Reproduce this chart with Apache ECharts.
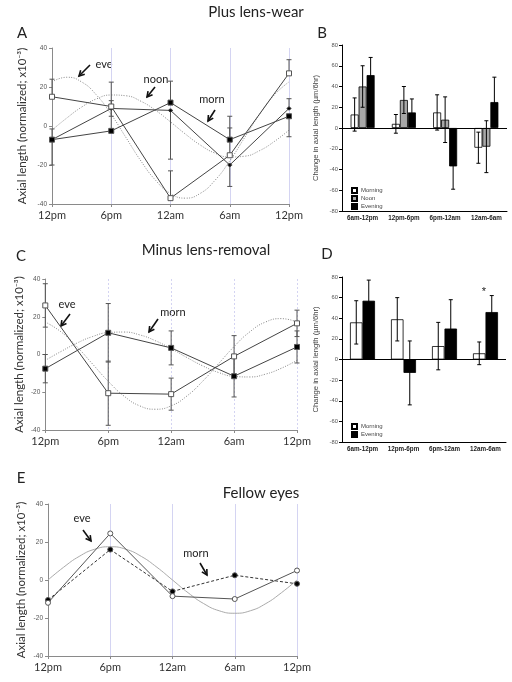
<!DOCTYPE html>
<html>
<head>
<meta charset="utf-8">
<script src="https://cdn.jsdelivr.net/npm/echarts@6/dist/echarts.min.js"></script>
<style>html,body{margin:0;padding:0;background:#fff}#c{width:512px;height:682px}</style>
</head>
<body>
<div id="c"></div>
<script>
// ---------- shared ----------
const hours = [0, 6, 12, 18, 24];
const timeLabels = ['12pm', '6pm', '12am', '6am', '12pm'];
const curveHours = [0, 1.5, 3, 4.5, 6, 7.5, 9, 10.5, 12, 13.5, 15, 16.5, 18, 19.5, 21, 22.5, 24];

// ---------- Panel A: Plus lens-wear ----------
const aOpen = [15, 10, -37, -15, 27];
const aFilled = [-7, -2.5, 12, -7, 5];
const aDot = [-7, 9, 8, -20, 9];
const aOpenErr = [[15, 24], [-2.5, 22.5], [-37, -23], [-15, -1], [27, 34]];
const aFilledErr = [[-20, -7], null, [12, 23], [-7, 5], [-5.5, 5]];
const aDotErr = [[-7, -1.5], [5, 13], [-17, 8], [-31, -20], [9, 14]];
const aEveCurve = [22.6, 25, 22.6, 15.9, 5.9, -6, -17.9, -27.9, -34.6, -37, -34.6, -27.9, -17.9, -6, 5.9, 15.9, 22.6];
const aNoonCurve = [-2.1, 4.1, 9.7, 13.9, 15.9, 15.5, 12.7, 8, 2.1, -4.1, -9.7, -13.9, -15.9, -15.5, -12.7, -8, -2.1];

// ---------- Panel B ----------
const barCats = ['6am-12pm', '12pm-6pm', '6pm-12am', '12am-6am'];
const bMorning = [13, 4, 15, -19];
const bMorningErr = [16, 9, 17, 15];
const bNoon = [40, 27, 8, -18];
const bNoonErr = [20, 13, 22, 25];
const bEvening = [51, 15, -37, 25];
const bEveningErr = [17, 13, 22, 24];

// ---------- Panel C: Minus lens-removal ----------
const cOpen = [26, -20.5, -21, -1, 16.5];
const cFilled = [-7.5, 11.5, 3.5, -11.5, 4];
const cOpenErr = [[14.5, 37.5], [-37.5, -3.5], [-29.5, -12.5], [-12, 10], [9.5, 23.5]];
const cFilledErr = [[-15, 0], [-4, 27], [-5.5, 12.5], [-22.5, -0.5], [-4.5, 12.5]];
const cEveCurve = [17.2, 12, 4.2, -5, -14.2, -22, -27.2, -29, -27.2, -22, -14.2, -5, 4.2, 12, 17.2, 19, 17.2];
const cMornCurve = [-3.1, 1.6, 6, 9.5, 11.6, 11.9, 10.4, 7.3, 3.1, -1.6, -6, -9.5, -11.6, -11.9, -10.4, -7.3, -3.1];

// ---------- Panel D ----------
const dMorning = [36, 39, 13, 6];
const dMorningErr = [21, 21, 23, 11];
const dEvening = [57, -13, 30, 46];
const dEveningErr = [20, 31, 28, 16];

// ---------- Panel E: Fellow eyes ----------
const eOpen = [-12, 24.5, -8.5, -10, 5];
const eFilled = [-10.5, 16, -6, 2.5, -2];
const eCurve = [0, 6.7, 12.4, 16.2, 17.5, 16.2, 12.4, 6.7, 0, -6.7, -12.4, -16.2, -17.5, -16.2, -12.4, -6.7, 0];

const yName = 'Axial length (normalized; x10\u207B\u00B3)';
const barYName = 'Change in axial length (\u00B5m/6hr)';
const LATO = 'Lato';
const ARIAL = 'Liberation Sans';

const pts = (xs, ys) => xs.map((x, i) => [x, ys[i]]);

function timeX(gi, dashed) {
  return {
    gridIndex: gi, type: 'value', min: 0, max: 24, interval: 6,
    axisLine: { onZero: false, lineStyle: { color: '#8a8a8a', width: 1 } },
    axisTick: { length: 3, lineStyle: { color: '#8a8a8a' } },
    axisLabel: { fontFamily: LATO, fontSize: 11, color: '#333', margin: 6,
      formatter: v => timeLabels[hours.indexOf(v)] },
    splitLine: { show: true, lineStyle: { color: '#d4d4f2', width: 1, type: dashed ? [2, 2] : 'solid' } }
  };
}
function axialY(gi, gap) {
  return {
    gridIndex: gi, type: 'value', min: -40, max: 40, interval: 20,
    name: yName, nameLocation: 'middle', nameGap: gap,
    nameTextStyle: { fontFamily: LATO, fontSize: 11.5, color: '#333' },
    axisLine: { show: true, onZero: false, lineStyle: { color: '#8a8a8a' } },
    axisTick: { show: true, length: 3, lineStyle: { color: '#8a8a8a' } },
    axisLabel: { fontFamily: ARIAL, fontSize: 6.5, color: '#555', margin: 5 },
    splitLine: { show: false }
  };
}
function catX(gi) {
  return {
    gridIndex: gi, type: 'category', data: barCats,
    axisLine: { onZero: false, lineStyle: { color: '#000', width: 1 } },
    axisTick: { length: 3, lineStyle: { color: '#000' } },
    axisLabel: { fontFamily: ARIAL, fontSize: 6.3, fontWeight: 'bold', color: '#222', margin: 4 }
  };
}
function barY(gi) {
  return {
    gridIndex: gi, type: 'value', min: -80, max: 80, interval: 20,
    name: barYName, nameLocation: 'middle', nameGap: 22,
    nameTextStyle: { fontFamily: ARIAL, fontSize: 7.6, color: '#444' },
    axisLine: { show: true, onZero: false, lineStyle: { color: '#000' } },
    axisTick: { show: true, length: 3, lineStyle: { color: '#000' } },
    axisLabel: { fontFamily: ARIAL, fontSize: 5.8, color: '#555', margin: 4 },
    splitLine: { show: false }
  };
}

function lineSeries(gi, ys, kind, dashed, color) {
  const sym = (kind === 'open' || kind === 'filled') ? 'rect' : 'circle';
  const size = kind === 'dot' ? 3 : 5;
  const fill = (kind === 'open' || kind === 'ocircle') ? '#fff' : '#000';
  return {
    type: 'line', xAxisIndex: gi, yAxisIndex: gi, data: pts(hours, ys),
    symbol: sym, symbolSize: size, showAllSymbol: true,
    itemStyle: { color: fill, borderColor: kind === 'dot' ? '#333' : '#555', borderWidth: 1 },
    lineStyle: { color: color || '#444', width: 1, type: dashed ? [3, 2] : 'solid' },
    z: 4, silent: true
  };
}
function curveSeries(gi, ys, solid) {
  return {
    type: 'line', xAxisIndex: gi, yAxisIndex: gi, data: pts(curveHours, ys),
    smooth: 0.5, showSymbol: false, silent: true,
    lineStyle: { color: solid ? '#aaa' : '#8a8a8a', width: 1, type: solid ? 'solid' : [1, 1.5] },
    z: 2
  };
}
function errLineSeries(gi, errs, color) {
  const data = [];
  errs.forEach((e, i) => { if (e) data.push([hours[i], e[0], e[1]]); });
  return {
    type: 'custom', xAxisIndex: gi, yAxisIndex: gi, data, silent: true, z: 3,
    encode: { x: 0, y: [1, 2] },
    renderItem(params, api) {
      const lo = api.coord([api.value(0), api.value(1)]);
      const hi = api.coord([api.value(0), api.value(2)]);
      const w = 2.5;
      const st = { stroke: color || '#555', lineWidth: 1 };
      return { type: 'group', children: [
        { type: 'line', shape: { x1: lo[0], y1: lo[1], x2: hi[0], y2: hi[1] }, style: st },
        { type: 'line', shape: { x1: lo[0] - w, y1: lo[1], x2: lo[0] + w, y2: lo[1] }, style: st },
        { type: 'line', shape: { x1: hi[0] - w, y1: hi[1], x2: hi[0] + w, y2: hi[1] }, style: st }
      ] };
    }
  };
}
function barSeries(gi, name, vals, fill, bw, withZero) {
  const s = {
    type: 'bar', name, xAxisIndex: gi, yAxisIndex: gi, data: vals, barWidth: bw, barGap: '0%',
    itemStyle: { color: fill, borderColor: '#000', borderWidth: 0.8 }, silent: true, z: 2
  };
  if (withZero) s.markLine = { silent: true, symbol: 'none', label: { show: false },
    lineStyle: { color: '#000', type: 'solid', width: 1.2 }, data: [{ yAxis: 0 }], animation: false };
  return s;
}
function errBarSeries(gi, vals, errs, offset) {
  return {
    type: 'custom', xAxisIndex: gi, yAxisIndex: gi, silent: true, z: 5,
    data: vals.map((v, i) => [i, v - errs[i], v + errs[i]]),
    encode: { x: 0, y: [1, 2] },
    renderItem(params, api) {
      const lo = api.coord([api.value(0), api.value(1)]);
      const hi = api.coord([api.value(0), api.value(2)]);
      const x = lo[0] + offset, w = 2;
      const st = { stroke: '#000', lineWidth: 1 };
      return { type: 'group', children: [
        { type: 'line', shape: { x1: x, y1: lo[1], x2: x, y2: hi[1] }, style: st },
        { type: 'line', shape: { x1: x - w, y1: lo[1], x2: x + w, y2: lo[1] }, style: st },
        { type: 'line', shape: { x1: x - w, y1: hi[1], x2: x + w, y2: hi[1] }, style: st }
      ] };
    }
  };
}

function arrow(x1, y1, x2, y2) {
  const ang = Math.atan2(y2 - y1, x2 - x1), L = 6, sp = 0.5;
  const p1 = [x2 - L * Math.cos(ang - sp), y2 - L * Math.sin(ang - sp)];
  const p2 = [x2 - L * Math.cos(ang + sp), y2 - L * Math.sin(ang + sp)];
  return { type: 'group', silent: true, children: [
    { type: 'line', shape: { x1, y1, x2, y2 }, style: { stroke: '#111', lineWidth: 1.6 } },
    { type: 'polyline', shape: { points: [p1, [x2, y2], p2] }, style: { stroke: '#111', lineWidth: 1.6, fill: null } }
  ] };
}
function txt(str, x, y, size, family, extra) {
  return { type: 'text', silent: true, x, y, style: Object.assign({ text: str, fontFamily: family || LATO,
    fontSize: size, fill: '#222', align: 'center', verticalAlign: 'middle' }, extra || {}) };
}

const option = {
  animation: false,
  backgroundColor: '#fff',
  grid: [
    { left: 52, top: 48, width: 237, height: 156 },
    { left: 342, top: 45, width: 165, height: 166 },
    { left: 37, top: 279, width: 260, height: 151 },
    { left: 342, top: 277, width: 164, height: 165 },
    { left: 48, top: 504, width: 249, height: 152 }
  ],
  xAxis: [ timeX(0, false), catX(1), timeX(2, true), catX(3), timeX(4, false) ],
  yAxis: [ axialY(0, 24), barY(1), axialY(2, 20), barY(3), axialY(4, 21) ],
  legend: [
    { data: ['Morning', 'Noon', 'Evening'], orient: 'vertical', left: 351, top: 187, padding: 0,
      itemWidth: 5, itemHeight: 5, itemGap: 1, icon: 'rect', selectedMode: false,
      textStyle: { fontFamily: ARIAL, fontSize: 6, color: '#444', padding: [0, 0, 0, -1] } },
    { data: ['Morning', 'Evening'], orient: 'vertical', left: 351, top: 423, padding: 0,
      itemWidth: 5, itemHeight: 5, itemGap: 1, icon: 'rect', selectedMode: false,
      textStyle: { fontFamily: ARIAL, fontSize: 6, color: '#444', padding: [0, 0, 0, -1] } }
  ],
  series: [
    // A
    curveSeries(0, aEveCurve), curveSeries(0, aNoonCurve),
    errLineSeries(0, aOpenErr), errLineSeries(0, aFilledErr), errLineSeries(0, aDotErr),
    lineSeries(0, aDot, 'dot'), lineSeries(0, aOpen, 'open'), lineSeries(0, aFilled, 'filled'),
    // B
    barSeries(1, 'Morning', bMorning, '#fff', 8, true),
    barSeries(1, 'Noon', bNoon, '#a8a8a8', 8),
    barSeries(1, 'Evening', bEvening, '#000', 8),
    errBarSeries(1, bMorning, bMorningErr, -8), errBarSeries(1, bNoon, bNoonErr, 0), errBarSeries(1, bEvening, bEveningErr, 8),
    // C
    curveSeries(2, cEveCurve), curveSeries(2, cMornCurve),
    errLineSeries(2, cOpenErr), errLineSeries(2, cFilledErr),
    lineSeries(2, cOpen, 'open'), lineSeries(2, cFilled, 'filled'),
    // D
    barSeries(3, 'Morning', dMorning, '#fff', 12.5, true),
    barSeries(3, 'Evening', dEvening, '#000', 12.5),
    errBarSeries(3, dMorning, dMorningErr, -6.25), errBarSeries(3, dEvening, dEveningErr, 6.25),
    // E
    curveSeries(4, eCurve, true),
    lineSeries(4, eFilled, 'fcircle', true, '#333'),
    lineSeries(4, eOpen, 'ocircle', false, '#555')
  ],
  graphic: [
    txt('Plus lens-wear', 256, 12, 15),
    txt('Minus lens-removal', 206, 250, 15),
    txt('Fellow eyes', 261, 493, 15),
    txt('A', 22, 33, 15), txt('B', 322, 33, 15), txt('C', 21, 256, 15),
    txt('D', 327, 254, 15), txt('E', 21, 478, 15),
    txt('eve', 104, 64, 11), txt('noon', 156, 79, 11), txt('morn', 212, 99, 11),
    arrow(90, 65, 79, 76), arrow(155, 87, 147, 97), arrow(215, 110, 208, 121),
    txt('eve', 67, 304, 11), txt('morn', 173, 312, 11),
    arrow(70, 314, 61, 326), arrow(158, 319, 149, 332),
    txt('eve', 82, 518, 11), txt('morn', 196, 553, 11),
    arrow(83, 530, 91, 541), arrow(200, 563, 207, 575),
    txt('*', 484, 292, 11, ARIAL)
  ]
};

const chart = echarts.init(document.getElementById('c'), null, { renderer: 'canvas' });
chart.setOption(option);
</script>
</body>
</html>
